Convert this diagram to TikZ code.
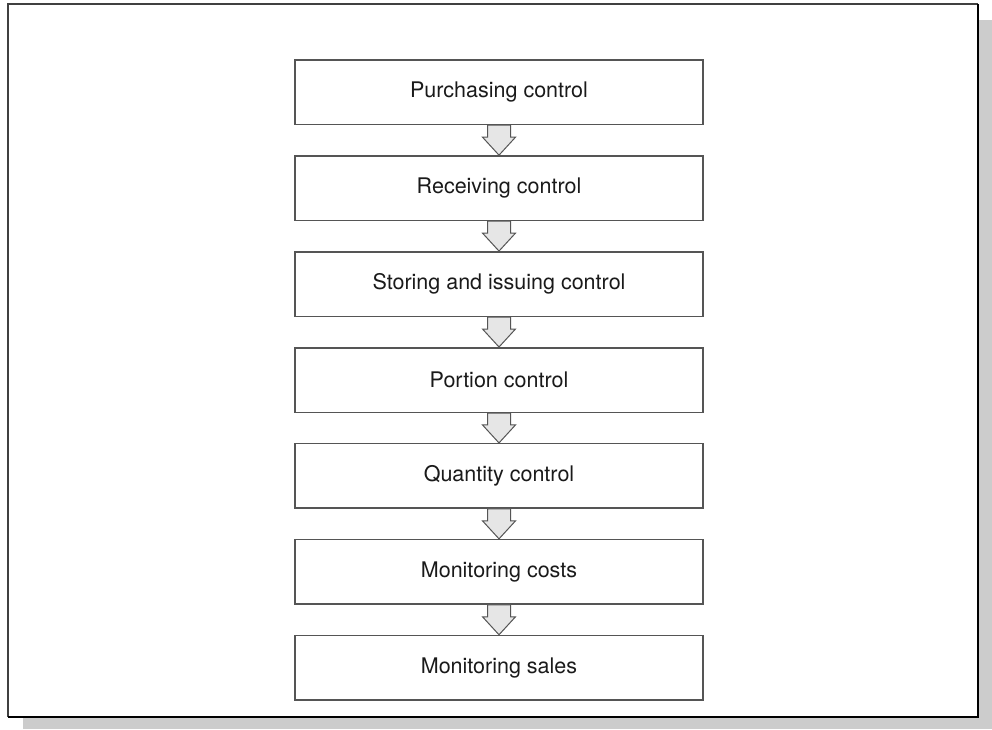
\documentclass[tikz,border=0pt]{standalone}
\usepackage{fontspec}
\setmainfont{TeX Gyre Heros}
\usetikzlibrary{calc}
\definecolor{boxline}{HTML}{555555}
\definecolor{arrowfill}{HTML}{E6E6E6}
\definecolor{shadowgray}{HTML}{CCCCCC}
\definecolor{textcol}{HTML}{1A1A1A}
\begin{document}
\begin{tikzpicture}[x=1pt,y=1pt,
  stagebox/.style={draw=boxline, line width=1.5pt, minimum width=408pt, minimum height=64.5pt,
    inner sep=0pt, text=textcol, font=\fontsize{21.5}{26}\selectfont},
  flowarrow/.style={draw=boxline, line width=1pt, fill=arrowfill, line join=miter}]
\useasboundingbox (0,0) rectangle (992,729);
% drop shadow and outer frame
\fill[shadowgray] (23,0) rectangle (992,709);
\fill[white] (8,12) rectangle (978,725);
\draw[line width=2pt, black!75] (8,12) -- (8,725) -- (978,725);
\draw[line width=2pt, black] (978,725) -- (978,12) -- (8,12);
% process stages
\foreach \n/\t [count=\i from 0] in {p1/Purchasing control, p2/Receiving control,
    p3/Storing and issuing control, p4/Portion control, p5/Quantity control,
    p6/Monitoring costs, p7/Monitoring sales}
  \node[stagebox] (\n) at (499, {729-92.25-95.92*\i}) {\t};
% block arrows between stages
\foreach \a/\b in {p1/p2, p2/p3, p3/p4, p4/p5, p5/p6, p6/p7}
  \draw[flowarrow] ($(\a.south)+(-11.5,0)$) |- ($(\b.north)+(-16.5,18)$) -- (\b.north)
    -- ($(\b.north)+(16.5,18)$) -| ($(\a.south)+(11.5,0)$) -- cycle;
\end{tikzpicture}
\end{document}
